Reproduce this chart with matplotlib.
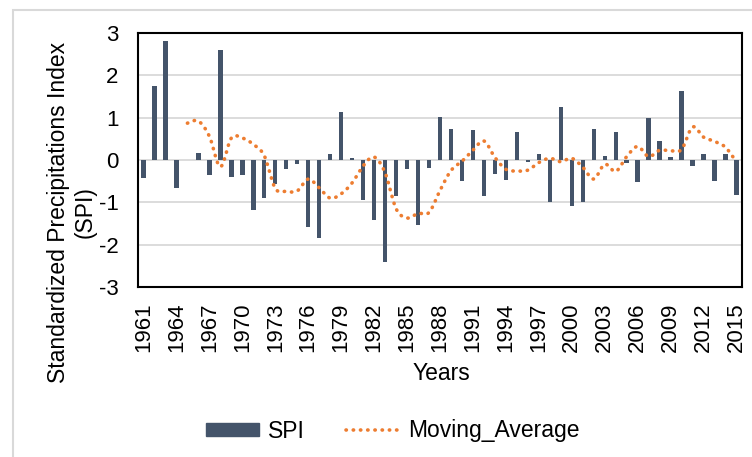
import numpy as np
import matplotlib
matplotlib.use("Agg")
import matplotlib.pyplot as plt
from matplotlib.patches import Rectangle
from matplotlib.lines import Line2D

years = list(range(1961, 2016))

# SPI values
spi = [-0.43, 1.75, 2.81, -0.65, 0.0, 0.17, -0.35, 2.6, -0.41, -0.35,
       -1.18, -0.9, -0.56, -0.22, -0.1, -1.58, -1.84, 0.15, 1.13, 0.05,
       -0.94, -1.41, -2.4, -0.84, -0.22, -1.53, -0.2, 1.01, 0.73, -0.5,
       0.7, -0.86, -0.32, -0.48, 0.66, -0.05, 0.13, -1.0, 1.25, -1.08,
       -1.0, 0.73, 0.1, 0.66, -0.07, -0.53, 0.99, 0.44, 0.08, 1.63,
       -0.13, 0.15, -0.49, 0.15, -0.83]

# moving average, starts in 1965
ma_years = list(range(1965, 2016))
ma = [0.87, 0.92, 0.56, -0.16, 0.52, 0.52, 0.37, 0.1, -0.67, -0.74,
      -0.73, -0.45, -0.66, -0.9, -0.8, -0.54, -0.14, 0.07, -0.3, -1.15,
      -1.37, -1.26, -1.24, -0.72, -0.25, -0.03, 0.23, 0.45, 0.06, -0.22,
      -0.26, -0.24, -0.06, 0.04, -0.04, 0.04, -0.17, -0.45, -0.1, -0.27,
      0.08, 0.32, 0.08, 0.23, 0.22, 0.25, 0.78, 0.54, 0.44, 0.3, -0.05]

bar_color = '#44546A'
ma_color = '#ED7D31'
plt.rcParams['font.family'] = ['Liberation Sans', 'DejaVu Sans']
plt.rcParams['axes.unicode_minus'] = False


# Excel style smoothed line (Catmull-Rom through the points)
def smooth(x, y, n=12):
    x = np.asarray(x, float)
    y = np.asarray(y, float)
    px = np.concatenate([[x[0]], x, [x[-1]]])
    py = np.concatenate([[y[0]], y, [y[-1]]])
    xs, ys = [], []
    t = np.linspace(0, 1, n, endpoint=False)
    for i in range(1, len(px) - 2):
        for p, out in ((px, xs), (py, ys)):
            p0, p1, p2, p3 = p[i - 1], p[i], p[i + 1], p[i + 2]
            out.extend(0.5 * ((2 * p1) + (-p0 + p2) * t
                              + (2 * p0 - 5 * p1 + 4 * p2 - p3) * t ** 2
                              + (-p0 + 3 * p1 - 3 * p2 + p3) * t ** 3))
    xs.append(x[-1])
    ys.append(y[-1])
    return xs, ys


fig = plt.figure(figsize=(7.52, 4.57), dpi=100)
ax = fig.add_axes([138 / 752, 1 - 287 / 457, (742 - 138) / 752, (287 - 33) / 457])

# outer chart frame
fig.patches.append(Rectangle((13 / 752, -0.1), 1.2, 1 - 10 / 457 + 0.1,
                             transform=fig.transFigure, fill=False,
                             edgecolor='#D9D9D9', linewidth=1.5))

ax.set_axisbelow(True)
ax.grid(axis='y', color='#D9D9D9', linewidth=1.3)
ax.bar(years, spi, width=0.4, color=bar_color, zorder=2)
sx, sy = smooth(ma_years, ma)
ax.plot(sx, sy, color=ma_color, linewidth=2.6, linestyle=(0, (0.1, 1.9)),
        dash_capstyle='round', zorder=3)

ax.set_xlim(1960.5, 2015.5)
ax.set_ylim(-3, 3)
ax.set_yticks(range(-3, 4))
ax.set_xticks(years[::3])
ax.set_xticklabels([str(y) for y in years[::3]], rotation=90, fontsize=16)
ax.tick_params(axis='y', labelsize=16, pad=14)
ax.tick_params(axis='x', pad=11)
ax.tick_params(length=0)
for s in ax.spines.values():
    s.set_color('black')
    s.set_linewidth(1.5)

fig.text(72 / 752, 1 - 212 / 457,
         'Standardized Precipitations Index\n(SPI)', rotation=90,
         ha='center', va='center', multialignment='center',
         fontsize=16.5, linespacing=1.2)

fig.text(441 / 752, 1 - 374 / 457, 'Years', ha='center', va='center',
         fontsize=16.5)

handles = [Rectangle((0, 0), 1, 1, color=bar_color),
           Line2D([], [], color=ma_color, linewidth=2.6,
                  linestyle=(0, (0.1, 1.9)), dash_capstyle='round')]
fig.legend(handles, ['SPI', 'Moving_Average'], loc='center',
           bbox_to_anchor=(393 / 752, 1 - 431 / 457), ncol=2, frameon=False,
           fontsize=16.5, handlelength=2.3, handleheight=0.5,
           handletextpad=0.4, columnspacing=1.8)

fig.savefig('out.png', dpi=100)
